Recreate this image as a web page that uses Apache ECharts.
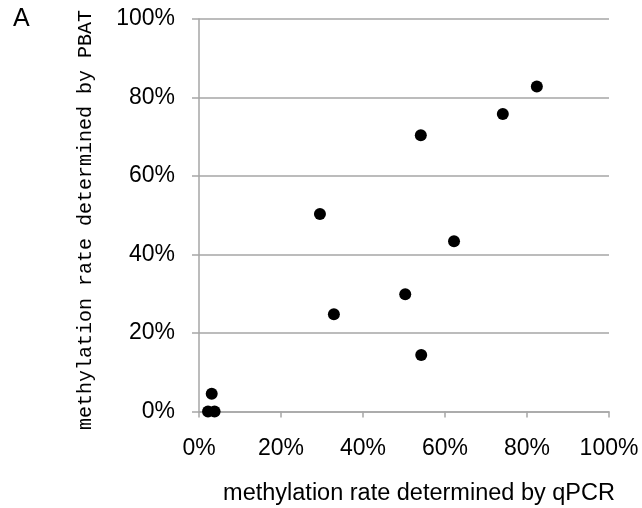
<!DOCTYPE html>
<html><head><meta charset="utf-8">
<script src="https://cdn.jsdelivr.net/npm/echarts@6/dist/echarts.min.js"></script>
<style>html,body{margin:0;padding:0;background:#fff}#c{width:642px;height:508px}</style>
</head><body><div id="c"></div>
<script>
const qpcrValues = [2.2, 3.8, 3.1, 29.5, 32.9, 50.3, 54.2, 62.2, 54.1, 74.1, 82.4];
const pbatValues = [0.0, 0.0, 4.5, 50.3, 24.8, 29.9, 14.4, 43.4, 70.4, 75.8, 82.8];
const xTitle = 'methylation rate determined by qPCR';
const yTitle = 'methylation rate determined by PBAT';
const panelLabel = 'A';

const points = qpcrValues.map((v, i) => [v, pbatValues[i]]);
const chart = echarts.init(document.getElementById('c'), null, {renderer: 'canvas'});
const grey = '#a6a6a6';
chart.setOption({
  animation: false,
  graphic: [
    {type: 'text', left: 13, top: 7, style: {text: panelLabel, font: '25px "Liberation Sans", Arial', fill: '#000'}},
    {type: 'text', x: 86, y: 220, rotation: Math.PI / 2,
     style: {text: yTitle, font: '20px "Liberation Mono", monospace', fill: '#000', align: 'center', verticalAlign: 'middle'}},
    {type: 'text', x: 419, y: 494,
     style: {text: xTitle, font: '23.5px "Liberation Sans", Arial', fill: '#000', align: 'center', verticalAlign: 'middle'}}
  ],
  grid: {left: 199, right: 33, top: 19, bottom: 96.5},
  xAxis: {
    type: 'value', min: 0, max: 100, interval: 20,
    axisLine: {show: true, onZero: false, lineStyle: {color: grey, width: 1.5}},
    axisTick: {show: true, length: 6, lineStyle: {color: grey, width: 1.5}},
    axisLabel: {formatter: '{value}%', margin: 26, fontFamily: '"Liberation Sans", Arial', fontSize: 23, color: '#000'},
    splitLine: {show: false}
  },
  yAxis: {
    type: 'value', min: 0, max: 100, interval: 20,
    axisLine: {show: true, onZero: false, lineStyle: {color: grey, width: 1.5}},
    axisTick: {show: true, length: 7, lineStyle: {color: grey, width: 1.5}},
    axisLabel: {formatter: '{value}%', margin: 24, fontFamily: '"Liberation Sans", Arial', fontSize: 23, color: '#000'},
    splitLine: {show: true, lineStyle: {color: grey, width: 1.5}}
  },
  series: [{
    type: 'scatter', data: points, symbol: 'circle', symbolSize: 12,
    itemStyle: {color: '#000', opacity: 1}
  }]
});
</script></body></html>
